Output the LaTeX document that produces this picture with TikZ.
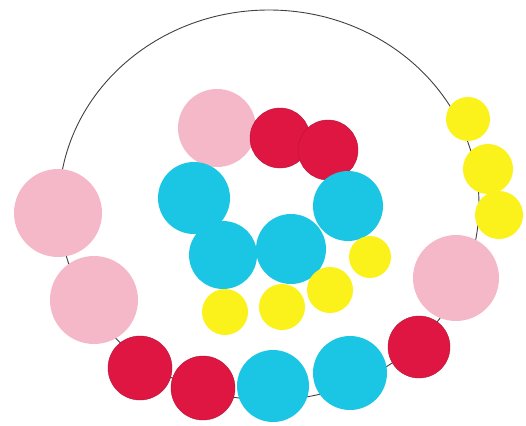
\documentclass[tikz,border=0pt]{standalone}
\definecolor{dotpink}{RGB}{245,184,200}
\definecolor{dotred}{RGB}{224,22,66}
\definecolor{dotblue}{RGB}{26,198,228}
\definecolor{dotyellow}{RGB}{250,242,26}
\tikzset{
  dot/.style={circle, inner sep=0pt, minimum size=#1},
  pinkdot/.style={dot=#1, fill=dotpink},
  reddot/.style={dot=#1, fill=dotred, draw=dotred!80!black, line width=0.4pt},
  bluedot/.style={dot=#1, fill=dotblue},
  yellowdot/.style={dot=#1, fill=dotyellow},
}
\begin{document}
\begin{tikzpicture}[x=1pt, y=-1pt]
\useasboundingbox (0,0) rectangle (526,425);
% ring
\coordinate (ring) at (269,205);
\draw[color=black!75, line width=0.9pt] (ring) ellipse (210pt and 195pt);
% outer ring of dots
\node[pinkdot=88pt] (p1) at (58,213) {};
\node[pinkdot=88pt] (p2) at (94,300) {};
\node[reddot=64pt] (r1) at (140,368) {};
\node[reddot=64pt] (r2) at (203,388) {};
\node[bluedot=72pt] (b1) at (273,386) {};
\node[bluedot=74pt] (b2) at (350,373) {};
\node[reddot=62pt] (r3) at (419,347) {};
\node[pinkdot=86pt] (p3) at (456,278) {};
\node[yellowdot=48pt] (y3) at (499,215) {};
\node[yellowdot=50pt] (y2) at (488,169) {};
\node[yellowdot=44pt] (y1) at (468,119) {};
% inner group
\node[pinkdot=78pt] (p4) at (217,128) {};
\node[reddot=60pt] (r4) at (280,138) {};
\node[reddot=60pt] (r5) at (328,150) {};
\node[bluedot=72pt] (b3) at (194,198) {};
\node[bluedot=70pt] (b4) at (348,206) {};
\node[bluedot=68pt] (b5) at (223,255) {};
\node[bluedot=70pt] (b6) at (291,249) {};
\node[yellowdot=42pt] (y4) at (370,257) {};
\node[yellowdot=46pt] (y5) at (330,290) {};
\node[yellowdot=46pt] (y6) at (282,307) {};
\node[yellowdot=46pt] (y7) at (225,312) {};
\end{tikzpicture}
\end{document}
